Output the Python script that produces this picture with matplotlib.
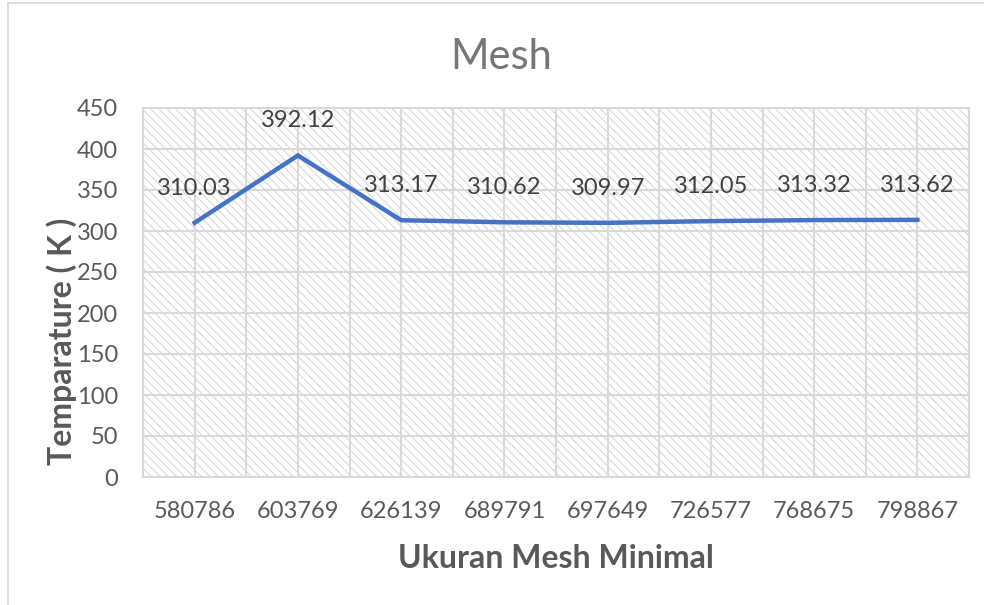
import numpy as np
import matplotlib.pyplot as plt
from matplotlib.patches import Rectangle
from matplotlib.lines import Line2D

mesh_sizes = ["580786", "603769", "626139", "689791", "697649", "726577", "768675", "798867"]
temperature = [310.03, 392.12, 313.17, 310.62, 309.97, 312.05, 313.32, 313.62]
y_ticks = [0, 50, 100, 150, 200, 250, 300, 350, 400, 450]

plt.rcParams['font.family'] = ['Lato', 'DejaVu Sans']
plt.rcParams['hatch.linewidth'] = 0.7
plt.rcParams['hatch.color'] = '#d4d4d4'

W, H = 984, 605
fig = plt.figure(figsize=(W / 100, H / 100), dpi=100)
ax = fig.add_axes([143/W, 1-477/H, 826/W, 369/H])

# outer frame (left and top edges of the chart box)
fig.add_artist(Line2D([8/W, 8/W], [0, 1-3/H], transform=fig.transFigure, color='#d9d9d9', lw=1.2))
fig.add_artist(Line2D([8/W, 1], [1-3/H, 1-3/H], transform=fig.transFigure, color='#d9d9d9', lw=1.2))

x = np.arange(len(mesh_sizes))
ax.set_xlim(-0.5, len(mesh_sizes) - 0.5)
ax.set_ylim(0, 450)

# hatched plot area
ax.add_patch(Rectangle((0, 0), 1, 1, transform=ax.transAxes, facecolor='white',
                       edgecolor='#d4d4d4', hatch='\\' * 4, lw=0, zorder=0))

ax.set_xticks(x)
ax.set_xticks(np.arange(-0.5, len(mesh_sizes)), minor=True)
ax.set_xticklabels(mesh_sizes)
ax.set_yticks(y_ticks)
ax.grid(True, which='both', axis='x', color='#d9d9d9', lw=1.5, zorder=1)
ax.grid(True, which='major', axis='y', color='#d9d9d9', lw=1.5, zorder=1)
ax.set_axisbelow(True)
ax.tick_params(which='both', length=0)
ax.tick_params(axis='x', pad=17, labelsize=17, labelcolor='#595959')
ax.tick_params(axis='y', pad=18, labelsize=17, labelcolor='#595959')
for s in ax.spines.values():
    s.set_color('#d9d9d9')
    s.set_linewidth(1.5)

ax.plot(x, temperature, color='#4472C4', lw=3.2, zorder=3, solid_joinstyle='miter')
for xi, v in zip(x, temperature):
    ax.annotate(f"{v:.2f}", (xi, v), xytext=(0, 25), textcoords='offset points',
                ha='center', va='center', fontsize=17, color='#404040', zorder=4)

fig.text(501/W, 1-57/H, "Mesh", ha='center', va='center', fontsize=30, color='#767676')
ax.set_xlabel("Ukuran Mesh Minimal", fontsize=23, fontweight='bold', color='#595959', labelpad=16)
fig.text(62/W, 1-341/H, "Temparature ( K )", rotation=90, ha='center', va='center',
         fontsize=23, fontweight='bold', color='#595959')

fig.savefig("out.png", dpi=100)
